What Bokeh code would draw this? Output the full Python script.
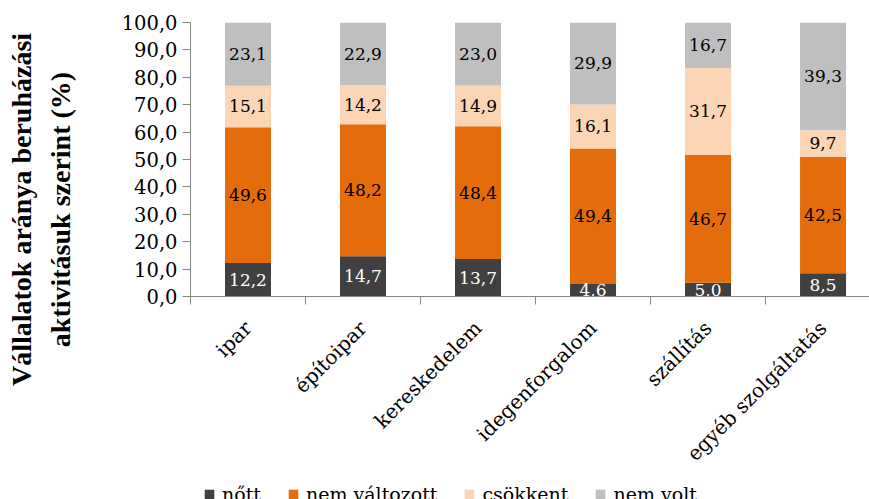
import math
import numpy as np
from bokeh.plotting import figure
from bokeh.layouts import row, column
from bokeh.models import (ColumnDataSource, Range1d, FixedTicker, LinearAxis,
                          CustomJSTickFormatter, Legend, LegendItem)
from bokeh.embed import file_html
from bokeh.resources import INLINE
from bokeh.core.properties import value

# ---- data ----
categories = ["ipar", "építoipar", "kereskedelem", "idegenforgalom",
              "szállítás", "egyéb szolgáltatás"]
series_names = ["nőtt", "nem változott", "csökkent", "nem volt"]
nott = [12.2, 14.7, 13.7, 4.6, 5.0, 8.5]
nem_valtozott = [49.6, 48.2, 48.4, 49.4, 46.7, 42.5]
csokkent = [15.1, 14.2, 14.9, 16.1, 31.7, 9.7]
nem_volt = [23.1, 22.9, 23.0, 29.9, 16.7, 39.3]
y_ticks = [0, 10, 20, 30, 40, 50, 60, 70, 80, 90, 100]
y_title_1 = "Vállalatok aránya beruházási"
y_title_2 = "aktivitásuk szerint (%)"

colors = ["#404040", "#E46C0A", "#FCD5B5", "#BFBFBF"]
label_colors = ["white", "black", "black", "black"]
FONT = "DejaVu Serif"
AXIS_COLOR = "#868686"
W = 869
ROW_H = 477
LEG_H = 22
TITLE_W = 100

xs = [i + 0.5 for i in range(len(categories))]
keys = ["s0", "s1", "s2", "s3"]
all_series = [nott, nem_valtozott, csokkent, nem_volt]
data = {"x": xs}
for k, s in zip(keys, all_series):
    data[k] = s
source = ColumnDataSource(data)


def no_align(fig):
    try:
        fig.frame_align = False
    except Exception:
        pass


def title_axis(ax, text, standoff):
    ax.ticker = FixedTicker(ticks=[])
    ax.axis_line_color = None
    ax.major_tick_line_color = None
    ax.minor_tick_line_color = None
    ax.axis_label = text
    ax.axis_label_standoff = standoff
    ax.axis_label_text_font = "Liberation Serif"
    ax.axis_label_text_font_style = "bold"
    ax.axis_label_text_font_size = "28px"
    ax.axis_label_text_color = "black"


# ---- title panel: a narrow figure whose (empty) axes carry the two lines ----
tp = figure(width=TITLE_W, height=ROW_H, output_backend="svg",
            toolbar_location=None, x_range=Range1d(0, 1),
            y_range=Range1d(0, 1), x_axis_location=None,
            min_border_left=90, min_border_right=0,
            min_border_top=32, min_border_bottom=ROW_H - 386)
tp.outline_line_color = None
tp.xgrid.visible = False
tp.ygrid.visible = False
title_axis(tp.yaxis[0], y_title_2, 15)
outer = LinearAxis()
title_axis(outer, y_title_1, 5)
tp.add_layout(outer, "left")
no_align(tp)

# ---- main chart ----
p = figure(width=W - TITLE_W, height=ROW_H, output_backend="svg",
           toolbar_location=None,
           x_range=Range1d(0, 5.904), y_range=Range1d(0, 100),
           min_border_left=190 - TITLE_W, min_border_right=0,
           min_border_top=22, min_border_bottom=ROW_H - 296)
p.outline_line_color = None
p.xgrid.visible = False
p.ygrid.visible = False
no_align(p)

p.vbar_stack(keys, x="x", width=0.4, color=colors, line_color=None,
             source=source)

# data labels
lx, ly, lt, lc = [], [], [], []
arr = np.array(all_series)
cum = np.cumsum(arr, axis=0)
for si in range(arr.shape[0]):
    for ci in range(arr.shape[1]):
        lx.append(xs[ci])
        ly.append(cum[si, ci] - arr[si, ci] / 2.0)
        lt.append(f"{arr[si, ci]:.1f}".replace(".", ","))
        lc.append(label_colors[si])
lsrc = ColumnDataSource(dict(x=lx, y=ly, t=lt, c=lc))
p.text(x="x", y="y", text="t", text_color="c", source=lsrc,
       text_align="center", text_baseline="middle",
       text_font=value(FONT), text_font_size="17px")

# y axis
ya = p.yaxis[0]
ya.ticker = FixedTicker(ticks=y_ticks)
ya.formatter = CustomJSTickFormatter(code="return tick.toFixed(1).replace('.', ',');")
ya.axis_line_color = AXIS_COLOR
ya.major_tick_line_color = AXIS_COLOR
ya.major_tick_out = 8
ya.major_tick_in = 0
ya.minor_tick_line_color = None
ya.major_label_text_font = FONT
ya.major_label_text_font_size = "19.5px"
ya.major_label_text_color = "black"
ya.major_label_standoff = 5

# x axis
xa = p.xaxis[0]
xa.ticker = FixedTicker(ticks=xs, minor_ticks=list(range(len(categories) + 1)))
xa.formatter = CustomJSTickFormatter(args=dict(cats=categories),
                                     code="return cats[Math.floor(tick)];")
xa.axis_line_color = AXIS_COLOR
xa.major_tick_line_color = None
xa.minor_tick_line_color = AXIS_COLOR
xa.minor_tick_out = 8
xa.minor_tick_in = 0
xa.major_label_orientation = math.pi / 4
xa.major_label_text_font = FONT
xa.major_label_text_font_size = "20px"
xa.major_label_text_color = "black"
xa.major_label_standoff = 20

# ---- legend strip (hidden proxy renderers of the same series) ----
lp = figure(width=W, height=LEG_H, output_backend="svg", toolbar_location=None,
            x_range=Range1d(0, W), y_range=Range1d(0, LEG_H),
            x_axis_location=None, y_axis_location=None, min_border=0)
lp.outline_line_color = None
lp.xgrid.visible = False
lp.ygrid.visible = False
no_align(lp)
items = []
for name, k, c in zip(series_names, keys, colors):
    r = lp.vbar(x="x", top=k, width=0.4, color=c, line_color=None,
                source=source, visible=False)
    items.append(LegendItem(label=name, renderers=[r]))
legend = Legend(items=items, orientation="horizontal", location=(203, -6),
                border_line_color=None, background_fill_alpha=0,
                inactive_fill_alpha=0,
                padding=0, margin=0, spacing=26, glyph_width=12,
                glyph_height=12, label_standoff=7,
                label_text_font=FONT, label_text_font_size="19px",
                label_text_color="black")
lp.add_layout(legend)

open("out.html", "w").write(file_html(column(row(tp, p), lp), INLINE))
